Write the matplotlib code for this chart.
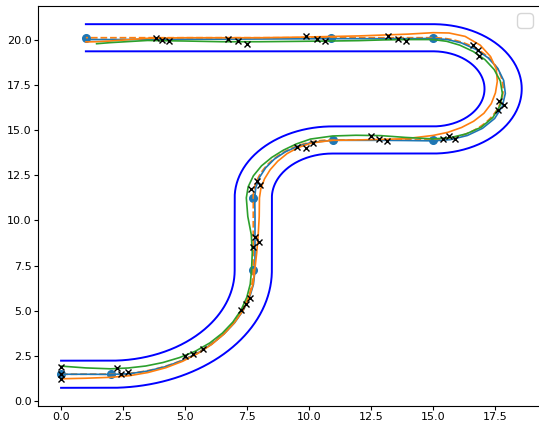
import numpy as np
import matplotlib
matplotlib.use("Agg")
import matplotlib.pyplot as plt

# track waypoints (centerline) and how much each segment turns (deg, + = left)
wp_x = [0.0, 2.0, 7.75, 7.75, 10.95, 15.0, 15.0, 10.9, 1.0]
wp_y = [1.5, 1.5, 7.25, 11.25, 14.45, 14.45, 20.1, 20.1, 20.1]
seg_turn = [0, 90, 0, -90, 0, 180, 0, 0]
half_width = 0.75

stations = [0, 1, 2, 2.75, 3.5, 4.25, 5.0, 5.75, 6.5, 7.25, 8.0, 8.75, 9.5, 10.25,
            11.03, 12, 13, 14, 15.03, 15.6, 16.2, 16.8, 17.4, 18.0, 18.6, 19.2,
            20.06, 21, 22, 23, 24.11, 24.8, 25.5, 26.2, 26.9, 27.6, 28.3, 29.0,
            29.7, 30.4, 31.1, 31.8, 32.4, 32.98, 34, 35, 36, 37.08, 38.5, 40,
            41.5, 43, 44.5, 46, 46.55, 46.98]

# lateral offsets (+ = left of travel direction)
orange_off = [-0.25, -0.22, -0.17, -0.13, -0.1, -0.08, -0.06, -0.04, -0.03, -0.02,
              -0.02, -0.03, -0.03, -0.04, -0.06, -0.14, -0.2, -0.24, -0.25, -0.26,
              -0.26, -0.24, -0.2, -0.14, -0.09, -0.05, -0.02, 0.0, 0.03, 0.07,
              0.25, 0.35, 0.4, 0.4, 0.37, 0.34, 0.3, 0.2, 0.05, -0.1, -0.25,
              -0.35, -0.33, -0.28, -0.2, -0.15, -0.1, -0.07, -0.03, 0.0, 0.0,
              0.0, 0.03, 0.18, 0.22, 0.23]
green_off = [0.45, 0.35, 0.3, 0.3, 0.27, 0.23, 0.18, 0.12, 0.08, 0.06, 0.05, 0.05,
             0.06, 0.07, 0.07, 0.04, 0.08, 0.22, 0.28, 0.26, 0.22, 0.17, 0.12, 0.1,
             0.12, 0.17, 0.22, 0.26, 0.24, 0.14, 0.06, 0.04, 0.0, -0.05, -0.06,
             -0.03, 0.02, 0.08, 0.14, 0.18, 0.2, 0.18, 0.14, 0.1, 0.1, 0.12, 0.16,
             0.18, 0.2, 0.22, 0.22, 0.18, 0.15, 0.27, 0.33, np.nan]
blue_off = [0.0, 0.0, -0.01, -0.02, -0.02, -0.02, -0.02, -0.02, -0.02, -0.02, -0.03,
            -0.04, -0.05, -0.06, -0.07, -0.07, -0.07, -0.07, -0.06, -0.05, -0.04,
            -0.03, -0.02, -0.02, -0.02, -0.02, -0.02, -0.02, -0.02, -0.03, -0.05,
            -0.07, -0.1, -0.13, -0.15, -0.13, -0.1, -0.06, -0.02, 0.02, 0.04, 0.04,
            0.04, 0.04, 0.05, 0.05, 0.05, 0.05, 0.06, 0.07, 0.08, 0.08, 0.09, 0.1,
            0.1, 0.1]

# x markers
mark_x = [0, 0, 0, 2.24, 2.42, 2.71, 5.0, 5.34, 5.71, 7.26, 7.46, 7.62, 7.75, 7.82,
          8.0, 7.66, 7.89, 8.02, 9.5, 9.88, 10.17, 12.5, 12.82, 13.13, 15.42, 15.66,
          15.89, 17.63, 17.67, 17.86, 16.6, 16.8, 16.85, 13.17, 13.6, 13.91, 9.87,
          10.31, 10.65, 6.75, 7.15, 7.49, 3.83, 4.05, 4.35]
mark_y = [1.91, 1.49, 1.23, 1.82, 1.49, 1.63, 2.50, 2.64, 2.92, 5.03, 5.40, 5.73,
          8.52, 9.07, 8.79, 11.74, 12.19, 11.96, 14.08, 14.03, 14.27, 14.67, 14.52,
          14.39, 14.49, 14.67, 14.49, 16.11, 16.6, 16.36, 19.72, 19.45, 19.08, 20.18,
          20.05, 19.91, 20.18, 20.04, 19.91, 20.04, 19.91, 19.78, 20.07, 20.0, 19.91]


def build_segments():
    segs = []
    heading = 0.0
    s0 = 0.0
    for i, turn in enumerate(seg_turn):
        p0 = np.array([wp_x[i], wp_y[i]])
        p1 = np.array([wp_x[i + 1], wp_y[i + 1]])
        chord = np.linalg.norm(p1 - p0)
        if turn == 0:
            seg = dict(s0=s0, L=chord, p0=p0, h0=heading, arc=False)
        else:
            a = np.radians(turn)
            R = chord / (2 * np.sin(abs(a) / 2))
            sgn = np.sign(a)
            c = p0 + sgn * R * np.array([-np.sin(heading), np.cos(heading)])
            seg = dict(s0=s0, L=R * abs(a), p0=p0, h0=heading, arc=True,
                       R=R, c=c, sgn=sgn, phi0=np.arctan2(*(p0 - c)[::-1]))
            heading += a
        segs.append(seg)
        s0 += seg["L"]
    return segs


SEGS = build_segments()


def pose(s):
    for seg in SEGS:
        if s <= seg["s0"] + seg["L"] + 1e-9 or seg is SEGS[-1]:
            break
    d = min(max(s - seg["s0"], 0.0), seg["L"])
    if not seg["arc"]:
        h = seg["h0"]
        p = seg["p0"] + d * np.array([np.cos(h), np.sin(h)])
    else:
        phi = seg["phi0"] + seg["sgn"] * d / seg["R"]
        p = seg["c"] + seg["R"] * np.array([np.cos(phi), np.sin(phi)])
        h = seg["h0"] + seg["sgn"] * d / seg["R"]
    return p, h


def offset_path(s_vals, offs):
    pts = []
    for s, o in zip(s_vals, offs):
        p, h = pose(s)
        pts.append(p + o * np.array([-np.sin(h), np.cos(h)]))
    pts = np.array(pts)
    return pts[:, 0], pts[:, 1]


total = SEGS[-1]["s0"] + SEGS[-1]["L"]
s_dense = np.linspace(0, total, 800)

fig = plt.figure(figsize=(5.39, 4.23), dpi=100)
ax = fig.add_axes([38 / 539, 17 / 423, 501.7 / 539, 400 / 423])

for side in (half_width, -half_width):
    bx, by = offset_path(s_dense, np.full(len(s_dense), side))
    ax.plot(bx, by, color="blue", lw=1.4)

ax.plot(wp_x, wp_y, "o", color="tab:blue", ms=5.5)
cx, cy = offset_path(s_dense, np.zeros(len(s_dense)))
ax.plot(cx, cy, "--", color="tab:orange", lw=1.3)

bx, by = offset_path(stations, blue_off)
ax.plot(bx, by, color="tab:blue", lw=1.2)
ox, oy = offset_path(stations, orange_off)
ax.plot(ox, oy, color="tab:orange", lw=1.2)
gx, gy = offset_path(stations, green_off)
ax.plot(gx, gy, color="tab:green", lw=1.2)

ax.plot(mark_x, mark_y, "x", color="black", ms=5, mew=1.0)

ax.set_xlim(-0.93, 19.3)
ax.set_ylim(-0.255, 21.855)
ax.set_xticks([0, 2.5, 5, 7.5, 10, 12.5, 15, 17.5])
ax.set_yticks([0, 2.5, 5, 7.5, 10, 12.5, 15, 17.5, 20])
ax.tick_params(labelsize=8, length=3, pad=1.5)
ax.legend(loc="upper right", fontsize=14, borderaxespad=0.35)

fig.savefig("out.png", dpi=100)
